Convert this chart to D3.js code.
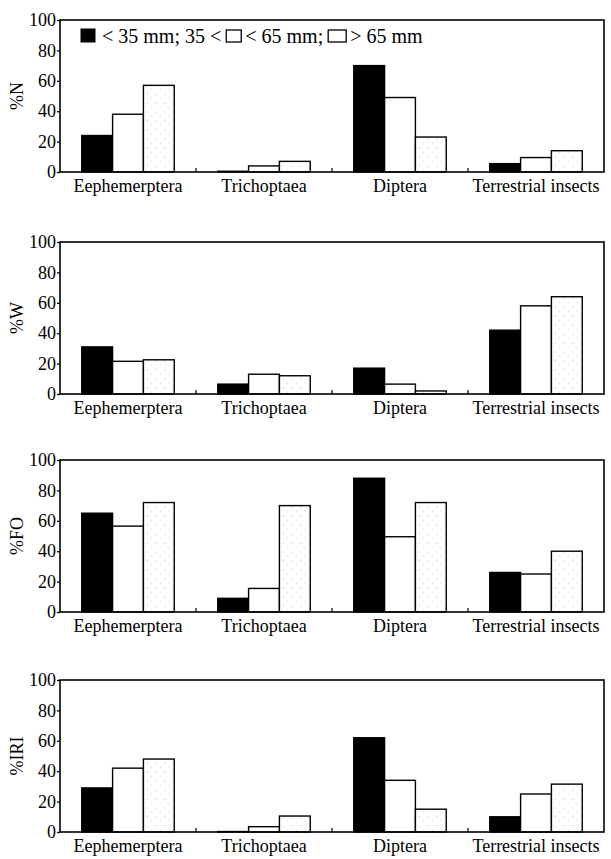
<!DOCTYPE html>
<html>
<head>
<meta charset="utf-8">
<script src="https://cdn.jsdelivr.net/npm/d3@7"></script>
<style>
body{margin:0;background:#fff;}
.axis path{display:none;}
.axis line{stroke:#000;stroke-width:1.3;}
</style>
</head>
<body>
<svg id="chart" width="611" height="859"></svg>
<script>
/// categories and size classes
var categories = ["Eephemerptera", "Trichoptaea", "Diptera", "Terrestrial insects"];
var sizeClasses = ["small", "medium", "large"];
var yTicks = [0, 20, 40, 60, 80, 100];
var panelLabels = ["%N", "%W", "%FO", "%IRI"];

/// values per category: [<35mm, 35-65mm, >65mm]
var pctN   = [[24, 38, 57], [0.5, 4, 7], [70, 49, 23], [5.5, 9.5, 14]];
var pctW   = [[31, 21.5, 22.5], [6.5, 13, 12], [17, 6.5, 2], [42, 58, 64]];
var pctFO  = [[65, 56.5, 72], [9, 15.5, 70], [88, 49.5, 72], [26, 25, 40]];
var pctIRI = [[29, 42, 48], [0.3, 3.5, 10.5], [62, 34, 15], [10, 25, 31.5]];

var panelData = [pctN, pctW, pctFO, pctIRI];
var panelTops = [20, 242, 460, 680];

var FONT = "'Liberation Serif', 'Times New Roman', 'DejaVu Serif', serif";

var svg = d3.select("#chart").attr("font-family", FONT);
var margin = {left: 60, right: 7};
var width = +svg.attr("width") - margin.left - margin.right;
var ph = 152;

/// stipple pattern for the >65 mm bars
var defs = svg.append("defs");
var pat = defs.append("pattern")
    .attr("id", "dots")
    .attr("patternUnits", "userSpaceOnUse")
    .attr("width", 9).attr("height", 9);
pat.append("rect").attr("width", 9).attr("height", 9).attr("fill", "#fff");
pat.append("circle").attr("cx", 2).attr("cy", 2).attr("r", 0.55).attr("fill", "#aaa");
pat.append("circle").attr("cx", 6.5).attr("cy", 6).attr("r", 0.5).attr("fill", "#c4c4c4");

var fills = {small: "#000", medium: "#fff", large: "url(#dots)"};

var x0 = d3.scaleBand()
    .domain(categories)
    .range([0, width])
    .paddingInner(0.32)
    .paddingOuter(0.16);

var x1 = d3.scaleBand()
    .domain(sizeClasses)
    .range([0, x0.bandwidth()]);

var y = d3.scaleLinear().domain([0, 100]).range([ph, 0]);

function serif(sel, size){
    sel.style("font-family", FONT).style("font-size", (size || 18) + "px");
}

panelData.forEach(function(values, p){
    var g = svg.append("g")
        .attr("transform", "translate(" + margin.left + "," + panelTops[p] + ")");

    /// bars
    var groups = g.selectAll(".grp")
        .data(categories)
      .enter().append("g")
        .attr("class", "grp")
        .attr("transform", function(d){ return "translate(" + x0(d) + ",0)"; });

    groups.selectAll("rect")
        .data(function(d, i){
            return sizeClasses.map(function(s, j){ return {s: s, v: values[i][j]}; });
        })
      .enter().append("rect")
        .attr("x", function(d){ return x1(d.s); })
        .attr("y", function(d){ return y(d.v); })
        .attr("width", x1.bandwidth())
        .attr("height", function(d){ return ph - y(d.v); })
        .attr("fill", function(d){ return fills[d.s]; })
        .attr("stroke", "#000")
        .attr("stroke-width", 1.4);

    /// small ticks between groups
    g.selectAll(".sep")
        .data(categories.slice(1))
      .enter().append("line")
        .attr("x1", function(d){ return x0(d) - x0.step() * x0.paddingInner() / 2; })
        .attr("x2", function(d){ return x0(d) - x0.step() * x0.paddingInner() / 2; })
        .attr("y1", ph).attr("y2", ph - 4)
        .attr("stroke", "#000").attr("stroke-width", 1.2);

    /// frame
    g.append("rect")
        .attr("width", width).attr("height", ph)
        .attr("fill", "none")
        .attr("stroke", "#000")
        .attr("stroke-width", 1.6);

    /// y axis
    g.append("g")
        .attr("class", "axis")
        .call(d3.axisLeft(y).tickValues(yTicks).tickSize(3).tickPadding(1))
        .attr("font-family", FONT)
        .selectAll("text").call(serif, 18);

    /// x axis labels
    g.append("g")
        .attr("class", "axis")
        .attr("transform", "translate(0," + ph + ")")
        .call(d3.axisBottom(x0).tickSize(0).tickPadding(7))
        .attr("font-family", FONT)
        .selectAll("text").call(serif, 18);

    /// y label
    g.append("text")
        .attr("transform", "translate(-37," + (ph / 2) + ") rotate(-90)")
        .attr("text-anchor", "middle")
        .call(serif, 18)
        .text(panelLabels[p]);
});

/// legend inside top panel
var lg = svg.append("g").attr("transform", "translate(81,29)");
lg.append("rect").attr("x", 0).attr("y", 0).attr("width", 14).attr("height", 13)
    .attr("fill", "#000").attr("stroke", "#000");
var pieces = [
    {t: "< 35 mm; 35 <", box: 15},
    {t: "< 65 mm;", box: 18},
    {t: "> 65 mm", box: 0}
];
var cx = 21;
pieces.forEach(function(pc){
    var t = lg.append("text").attr("x", cx).attr("y", 14)
        .call(serif, 20).text(pc.t);
    cx += t.node().getComputedTextLength() + 5;
    if (pc.box){
        lg.append("rect").attr("x", cx).attr("y", 1).attr("width", pc.box).attr("height", 12)
            .attr("fill", "#fff").attr("stroke", "#000").attr("stroke-width", 1.3);
        cx += pc.box + 4;
    }
});
</script>
</body>
</html>
